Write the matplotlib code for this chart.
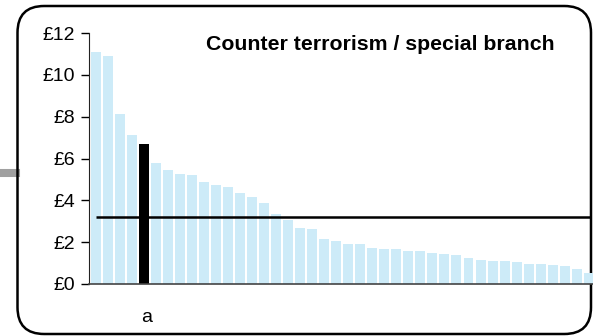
"""Counter terrorism / special branch: cost per head by force."""

# Plot.
from matplotlib import pyplot as plt
from matplotlib.patches import FancyBboxPatch
from matplotlib.lines import Line2D
import numpy as np

# Data.
costs = [
    11.09, 10.90, 8.15, 7.14, 6.71, 5.77, 5.46, 5.24, 5.19, 4.89,
    4.71, 4.62, 4.33, 4.17, 3.85, 3.37, 3.07, 2.69, 2.63, 2.15,
    2.06, 1.91, 1.91, 1.72, 1.67, 1.67, 1.58, 1.58, 1.48, 1.43,
    1.39, 1.24, 1.15, 1.10, 1.10, 1.05, 0.96, 0.96, 0.91, 0.86,
    0.72, 0.53,
]
highlight = 4  # index of force "a"
highlight_label = "a"
average = 3.2
y_ticks = [0, 2, 4, 6, 8, 10, 12]
y_tick_labels = ["£0", "£2", "£4", "£6", "£8", "£10", "£12"]
title = "Counter terrorism / special branch"

plt.rcParams["font.family"] = ["Liberation Sans", "DejaVu Sans"]

W, H = 593, 336
fig = plt.figure(figsize=(W / 100, H / 100), dpi=100)

# Rounded frame and grey connector on the left.
frame = FancyBboxPatch(
    (17.5 / W, 1 - 334 / H), (591 - 17.5) / W, (334 - 6) / H,
    boxstyle="round,pad=0,rounding_size=0.045",
    transform=fig.transFigure, facecolor="none", edgecolor="black",
    linewidth=1.8, mutation_aspect=W / H, zorder=-1,
)
fig.patches.append(frame)
fig.add_artist(Line2D([0, 16 / W], [1 - 173 / H] * 2, color="#a0a0a0",
                      linewidth=5.8, transform=fig.transFigure, zorder=-1))

ax = fig.add_axes([89 / W, 1 - 284 / H, (W - 89) / W, (284 - 33) / H])
ax.patch.set_alpha(0)

x = np.arange(len(costs))
colors = ["#cdebf8"] * len(costs)
colors[highlight] = "black"
ax.bar(x, costs, width=0.83, color=colors, zorder=2)
ax.hlines(average, 0, 41.2, color="black", linewidth=1.8, zorder=3)

ax.set_xlim(-0.55, 41.35)
ax.set_ylim(0, 12)
ax.set_yticks(y_ticks)
ax.set_yticklabels(y_tick_labels, fontsize=14)
ax.set_xticks([])
ax.tick_params(axis="y", direction="out", length=6, width=1, pad=4)
for side in ("top", "right"):
    ax.spines[side].set_visible(False)
ax.spines["left"].set_color("#222222")
ax.spines["bottom"].set_color("#444444")
ax.spines["bottom"].set_linewidth(1.2)

fig.text(146.5 / W, 1 - 317 / H, highlight_label, fontsize=14,
         ha="center", va="center")
fig.text(380 / W, 1 - 45 / H, title, fontsize=15.3, fontweight="bold",
         ha="center", va="center")

fig.savefig("out.png", dpi=100)
